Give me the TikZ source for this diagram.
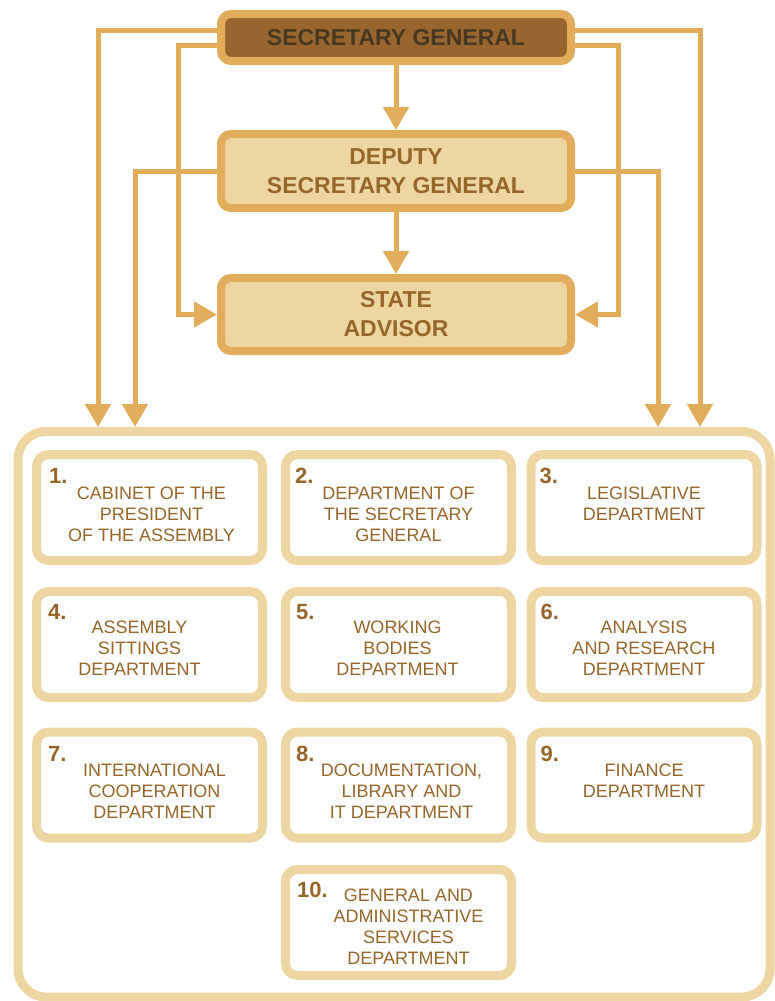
\documentclass[tikz,border=0pt]{standalone}
\usepackage{fontspec}
\setmainfont{Liberation Sans}
\usetikzlibrary{arrows.meta}
\definecolor{gold}{RGB}{225,173,90}
\definecolor{tan}{RGB}{238,214,163}
\definecolor{darkfill}{RGB}{151,101,45}
\definecolor{titletext}{RGB}{72,56,34}
\definecolor{brown}{RGB}{150,102,42}
\begin{document}
\begin{tikzpicture}[x=1pt,y=-1pt,
 topbox/.style={draw=gold, line width=8pt, rounded corners=10pt, minimum width=350pt, inner sep=0pt, align=center, font=\fontsize{23}{29}\selectfont\bfseries},
 deptbox/.style={draw=tan, line width=9pt, rounded corners=12pt, minimum width=226pt, minimum height=106pt, fill=white, inner sep=0pt},
 depttext/.style={anchor=north, inner sep=0pt, align=center, text=brown, font=\fontsize{18}{21}\selectfont},
 num/.style={anchor=west, inner sep=0pt, text=brown, font=\fontsize{22}{22}\selectfont\bfseries},
 conn/.style={draw=gold, line width=5pt, -{Triangle[width=25pt,length=23pt]}},
 container/.style={draw=tan, line width=9pt, rounded corners=28pt, inner sep=0pt}
]
\useasboundingbox (0,0) rectangle (774,1001);
\fill[white] (0,0) rectangle (774,1001);

% container
\node[container, minimum width=752pt, minimum height=565.5pt] (cont) at (394,714.25) {};

% top boxes
\node[topbox, fill=darkfill, text=titletext, minimum height=47pt] (sg) at (396,37.5) {SECRETARY GENERAL};
\node[topbox, fill=tan, text=brown, minimum height=74pt] (dsg) at (396,171) {DEPUTY\\SECRETARY GENERAL};
\node[topbox, fill=tan, text=brown, minimum height=73pt] (sa) at (396,314.5) {STATE\\ADVISOR};

% connector columns
\coordinate (L1) at (98,0);
\coordinate (L2) at (178,0);
\coordinate (L3) at (135,0);
\coordinate (R1) at (700,0);
\coordinate (R2) at (618,0);
\coordinate (R3) at (658,0);

\draw[conn] (sg) -- (dsg);
\draw[conn] (dsg) -- (sa);
\draw[conn] ([yshift=7.5pt]sg.west) -| (cont.north -| L1);
\draw[conn] ([yshift=-7.5pt]sg.west) -| (sa.west -| L2) -- (sa.west);
\draw[conn] (dsg.west) -| (cont.north -| L3);
\draw[conn] ([yshift=7.5pt]sg.east) -| (cont.north -| R1);
\draw[conn] ([yshift=-7.5pt]sg.east) -| (sa.east -| R2) -- (sa.east);
\draw[conn] (dsg.east) -| (cont.north -| R3);

% departments
\node[deptbox] (d1) at (149.5,507.5) {};
\node[num] (n1) at ([xshift=17pt,yshift=-26pt]d1.north west) {1.};
\node[depttext] (t1) at ([xshift=2pt,yshift=-37pt]d1.north) {CABINET OF THE\\PRESIDENT\\OF THE ASSEMBLY};

\node[deptbox] (d2) at (398.5,507.5) {};
\node[num] (n2) at ([xshift=14pt,yshift=-26pt]d2.north west) {2.};
\node[depttext] (t2) at ([yshift=-37pt]d2.north) {DEPARTMENT OF\\THE SECRETARY\\GENERAL};

\node[deptbox] (d3) at (644,507.5) {};
\node[num] (n3) at ([xshift=13pt,yshift=-26pt]d3.north west) {3.};
\node[depttext] (t3) at ([yshift=-37pt]d3.north) {LEGISLATIVE\\DEPARTMENT};

\node[deptbox] (d4) at (149.5,644.5) {};
\node[num] (n4) at ([xshift=16pt,yshift=-25pt]d4.north west) {4.};
\node[depttext] (t4) at ([xshift=-10pt,yshift=-34pt]d4.north) {ASSEMBLY\\SITTINGS\\DEPARTMENT};

\node[deptbox] (d5) at (398.5,644.5) {};
\node[num] (n5) at ([xshift=15pt,yshift=-25pt]d5.north west) {5.};
\node[depttext] (t5) at ([xshift=-1pt,yshift=-34pt]d5.north) {WORKING\\BODIES\\DEPARTMENT};

\node[deptbox] (d6) at (644,644.5) {};
\node[num] (n6) at ([xshift=14pt,yshift=-25pt]d6.north west) {6.};
\node[depttext] (t6) at ([yshift=-34pt]d6.north) {ANALYSIS\\AND RESEARCH\\DEPARTMENT};

\node[deptbox] (d7) at (149.5,785) {};
\node[num] (n7) at ([xshift=16pt,yshift=-26pt]d7.north west) {7.};
\node[depttext] (t7) at ([xshift=5pt,yshift=-36pt]d7.north) {INTERNATIONAL\\COOPERATION\\DEPARTMENT};

\node[deptbox] (d8) at (398.5,785) {};
\node[num] (n8) at ([xshift=15pt,yshift=-26pt]d8.north west) {8.};
\node[depttext] (t8) at ([xshift=3pt,yshift=-36pt]d8.north) {DOCUMENTATION,\\LIBRARY AND\\IT DEPARTMENT};

\node[deptbox] (d9) at (644,785) {};
\node[num] (n9) at ([xshift=14pt,yshift=-26pt]d9.north west) {9.};
\node[depttext] (t9) at ([yshift=-36pt]d9.north) {FINANCE\\DEPARTMENT};

\node[deptbox] (d10) at (398.5,922.5) {};
\node[num] (n10) at ([xshift=16pt,yshift=-25pt]d10.north west) {10.};
\node[depttext] (t10) at ([xshift=10pt,yshift=-24pt]d10.north) {GENERAL AND\\ADMINISTRATIVE\\SERVICES\\DEPARTMENT};
\end{tikzpicture}
\end{document}
